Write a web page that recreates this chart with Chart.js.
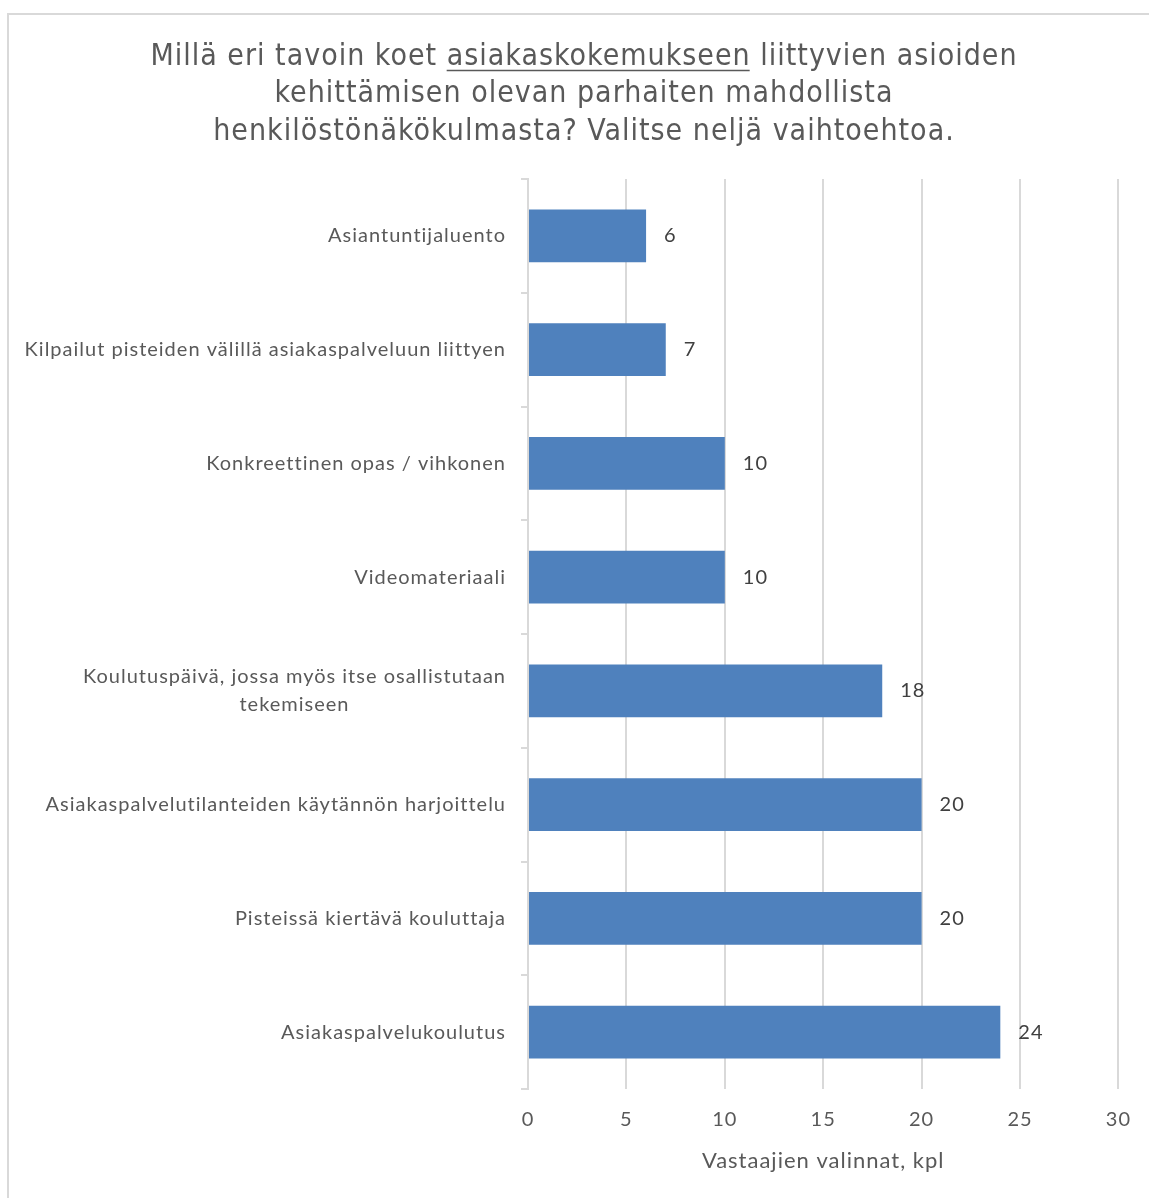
<!DOCTYPE html>
<html lang="fi">
<head>
  <meta charset="UTF-8">
  <title>Asiakaskokemus – kehittäminen</title>
  <script src="https://cdn.jsdelivr.net/npm/chart.js"></script>
  <style>
    html, body {
      margin: 0;
      padding: 0;
      background: #ffffff;
      overflow: hidden;
    }

    .frame {
      position: absolute;
      left: 7px;
      top: 13px;
      width: 1200px;
      height: 1250px;
      border-left: 2px solid #d9d9d9;
      border-top: 2px solid #d9d9d9;
    }

    .wrap {
      position: absolute;
      left: 0;
      top: 0;
      width: 1149px;
      height: 1198px;
    }
  </style>
</head>
<body>

  <div class="frame"></div>
  <div class="wrap">
    <canvas id="barChart" width="1149" height="1198"></canvas>
  </div>

  <script>
    // data, top to bottom
    const categories = [
      'Asiantuntijaluento',
      'Kilpailut pisteiden välillä asiakaspalveluun liittyen',
      'Konkreettinen opas / vihkonen',
      'Videomateriaali',
      ['Koulutuspäivä, jossa myös itse osallistutaan', 'tekemiseen'],
      'Asiakaspalvelutilanteiden käytännön harjoittelu',
      'Pisteissä kiertävä kouluttaja',
      'Asiakaspalvelukoulutus'
    ];
    const answers = [6, 7, 10, 10, 18, 20, 20, 24];
    const xTicks = [0, 5, 10, 15, 20, 25, 30];

    const titleLines = [
      'Millä eri tavoin koet asiakaskokemukseen liittyvien asioiden',
      'kehittämisen olevan parhaiten mahdollista',
      'henkilöstönäkökulmasta? Valitse neljä vaihtoehtoa.'
    ];
    const underlined = 'asiakaskokemukseen';
    const xTitle = 'Vastaajien valinnat, kpl';

    const bodyFamily = 'Lato, Carlito, "Open Sans", sans-serif';
    const labelFont = '20px ' + bodyFamily;
    const titleFamily = '"DejaVu Sans Condensed", "Liberation Sans Narrow", sans-serif';
    const textGrey = '#595959';
    const spacing = '1px';

    // the source text is a bit more loosely spaced than Lato
    const letterSpacing = {
      id: 'letterSpacing',
      beforeDraw(chart) {
        chart.ctx.letterSpacing = spacing;
      }
    };

    // category labels: right edge near the axis, wrapped lines centred (like Excel)
    const categoryLabels = {
      id: 'categoryLabels',
      afterDraw(chart) {
        const ctx = chart.ctx;
        const yScale = chart.scales.y;
        const right = chart.chartArea.left - 22;
        ctx.save();
        ctx.letterSpacing = spacing;
        ctx.font = labelFont;
        ctx.fillStyle = textGrey;
        ctx.textAlign = 'center';
        ctx.textBaseline = 'middle';
        categories.forEach((lab, i) => {
          const lines = Array.isArray(lab) ? lab : [lab];
          const w = Math.max(...lines.map(l => ctx.measureText(l).width));
          const cx = right - w / 2;
          const lh = 28;
          const y0 = yScale.getPixelForValue(i) - (lines.length - 1) * lh / 2;
          lines.forEach((l, j) => ctx.fillText(l, cx, y0 + j * lh));
        });
        ctx.restore();
      }
    };

    // value labels at the end of each bar
    const valueLabels = {
      id: 'valueLabels',
      afterDatasetsDraw(chart) {
        const ctx = chart.ctx;
        const meta = chart.getDatasetMeta(0);
        ctx.save();
        ctx.font = labelFont;
        ctx.fillStyle = '#404040';
        ctx.textAlign = 'left';
        ctx.textBaseline = 'middle';
        meta.data.forEach((bar, i) => {
          ctx.fillText(String(answers[i]), bar.x + 18, bar.y);
        });
        ctx.restore();
      }
    };

    // underline for the one word in the title
    const titleUnderline = {
      id: 'titleUnderline',
      afterDraw(chart) {
        const tb = chart.titleBlock;
        if (!tb) return;
        const ctx = chart.ctx;
        const opts = tb.options;
        const size = opts.font.size;
        const lh = size * opts.font.lineHeight;
        ctx.save();
        ctx.letterSpacing = spacing;
        ctx.font = size + 'px ' + titleFamily;
        const line = titleLines[0];
        const full = ctx.measureText(line).width;
        const idx = line.indexOf(underlined);
        const pre = ctx.measureText(line.slice(0, idx)).width;
        const wordW = ctx.measureText(underlined).width - 1;
        const cx = (tb.left + tb.right) / 2;
        const x0 = cx - full / 2 + pre;
        const y = tb.top + opts.padding.top + lh / 2 + size * 0.46;
        ctx.strokeStyle = textGrey;
        ctx.lineWidth = 1.5;
        ctx.beginPath();
        ctx.moveTo(x0, y);
        ctx.lineTo(x0 + wordW, y);
        ctx.stroke();
        ctx.restore();
      }
    };

    const ctx = document.getElementById('barChart').getContext('2d');
    new Chart(ctx, {
      type: 'bar',
      data: {
        labels: categories,
        datasets: [{
          label: 'Vastaajat',
          data: answers,
          backgroundColor: '#4f81bd',
          borderWidth: 0,
          categoryPercentage: 1,
          barPercentage: 0.465
        }]
      },
      options: {
        indexAxis: 'y',
        responsive: false,
        animation: false,
        layout: {
          padding: { left: 49, right: 30, top: 0, bottom: 24 }
        },
        plugins: {
          legend: { display: false },
          tooltip: { enabled: false },
          title: {
            display: true,
            text: titleLines,
            color: textGrey,
            font: { family: titleFamily, size: 30, weight: 'normal', lineHeight: 1.25 },
            padding: { top: 38, bottom: 28.5 }
          }
        },
        scales: {
          x: {
            min: xTicks[0],
            max: xTicks[xTicks.length - 1],
            afterBuildTicks(scale) {
              scale.ticks = xTicks.map(v => ({ value: v }));
            },
            grid: {
              color: '#d9d9d9',
              lineWidth: 2,
              drawTicks: false
            },
            border: { display: false },
            ticks: {
              color: textGrey,
              font: { family: bodyFamily, size: 20 },
              padding: 19
            },
            title: {
              display: true,
              text: xTitle,
              color: textGrey,
              font: { family: bodyFamily, size: 22 },
              padding: { top: 15, bottom: 0 }
            },
            afterFit(scale) {
              scale.height = 85;
            }
          },
          y: {
            grid: {
              drawOnChartArea: false,
              drawTicks: true,
              tickLength: 7,
              color: '#d9d9d9',
              lineWidth: 2,
              offset: true
            },
            border: { display: true, color: '#d9d9d9', width: 2 },
            ticks: { display: false },
            afterFit(scale) {
              scale.width = 479;
            }
          }
        }
      },
      plugins: [letterSpacing, categoryLabels, valueLabels, titleUnderline]
    });
  </script>
</body>
</html>
